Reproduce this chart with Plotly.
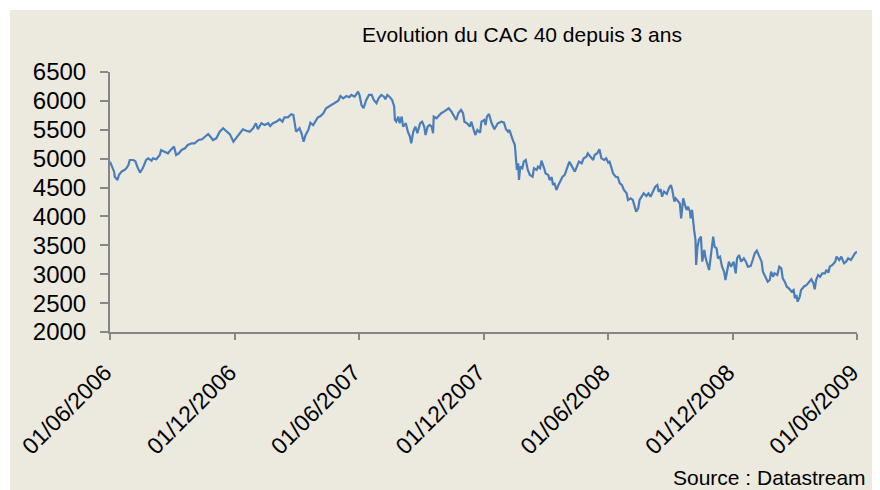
import plotly.graph_objects as go

dates = [
    "2006-06-01", "2006-06-04", "2006-06-07", "2006-06-08", "2006-06-12", "2006-06-14", "2006-06-18",
    "2006-06-22", "2006-06-25", "2006-06-28", "2006-06-30", "2006-07-05", "2006-07-08", "2006-07-11",
    "2006-07-15", "2006-07-19", "2006-07-24", "2006-07-27", "2006-08-01", "2006-08-03", "2006-08-08",
    "2006-08-13", "2006-08-15", "2006-08-20", "2006-08-25", "2006-08-29", "2006-09-03", "2006-09-06",
    "2006-09-10", "2006-09-14", "2006-09-19", "2006-09-23", "2006-09-29", "2006-10-03", "2006-10-09",
    "2006-10-14", "2006-10-18", "2006-10-23", "2006-10-27", "2006-10-30", "2006-11-04", "2006-11-09",
    "2006-11-14", "2006-11-19", "2006-11-24", "2006-11-29", "2006-12-03", "2006-12-08", "2006-12-13",
    "2006-12-18", "2006-12-23", "2006-12-28", "2007-01-01", "2007-01-04", "2007-01-09", "2007-01-14",
    "2007-01-19", "2007-01-22", "2007-01-26", "2007-01-31", "2007-02-05", "2007-02-09", "2007-02-12",
    "2007-02-17", "2007-02-22", "2007-02-25", "2007-02-27", "2007-03-01", "2007-03-06", "2007-03-09",
    "2007-03-12", "2007-03-15", "2007-03-19", "2007-03-22", "2007-03-26", "2007-03-30", "2007-04-02",
    "2007-04-06", "2007-04-10", "2007-04-14", "2007-04-18", "2007-04-22", "2007-04-27", "2007-05-02",
    "2007-05-05", "2007-05-09", "2007-05-14", "2007-05-18", "2007-05-21", "2007-05-26", "2007-05-31",
    "2007-06-02", "2007-06-05", "2007-06-08", "2007-06-12", "2007-06-16", "2007-06-20", "2007-06-23",
    "2007-06-27", "2007-06-30", "2007-07-04", "2007-07-08", "2007-07-10", "2007-07-13", "2007-07-16",
    "2007-07-20", "2007-07-23", "2007-07-24", "2007-07-26", "2007-07-29", "2007-07-31", "2007-08-03",
    "2007-08-05", "2007-08-09", "2007-08-12", "2007-08-15", "2007-08-17", "2007-08-20", "2007-08-23",
    "2007-08-26", "2007-08-30", "2007-09-02", "2007-09-05", "2007-09-07", "2007-09-10", "2007-09-13",
    "2007-09-16", "2007-09-18", "2007-09-19", "2007-09-23", "2007-09-26", "2007-09-30", "2007-10-04",
    "2007-10-08", "2007-10-11", "2007-10-15", "2007-10-19", "2007-10-22", "2007-10-25", "2007-10-29",
    "2007-11-01", "2007-11-03", "2007-11-07", "2007-11-11", "2007-11-13", "2007-11-16", "2007-11-19",
    "2007-11-22", "2007-11-26", "2007-11-28", "2007-12-02", "2007-12-04", "2007-12-06", "2007-12-09",
    "2007-12-13", "2007-12-17", "2007-12-22", "2007-12-27", "2007-12-31", "2008-01-03", "2008-01-06",
    "2008-01-08", "2008-01-11", "2008-01-13", "2008-01-16", "2008-01-17", "2008-01-19", "2008-01-21",
    "2008-01-22", "2008-01-24", "2008-01-27", "2008-01-29", "2008-02-01", "2008-02-04", "2008-02-07",
    "2008-02-11", "2008-02-13", "2008-02-17", "2008-02-19", "2008-02-22", "2008-02-24", "2008-02-28",
    "2008-03-01", "2008-03-05", "2008-03-07", "2008-03-10", "2008-03-12", "2008-03-14", "2008-03-17",
    "2008-03-20", "2008-03-23", "2008-03-26", "2008-03-29", "2008-04-01", "2008-04-05", "2008-04-09",
    "2008-04-13", "2008-04-16", "2008-04-19", "2008-04-23", "2008-04-26", "2008-04-30", "2008-05-02",
    "2008-05-06", "2008-05-10", "2008-05-12", "2008-05-16", "2008-05-19", "2008-05-22", "2008-05-26",
    "2008-05-29", "2008-06-01", "2008-06-03", "2008-06-06", "2008-06-08", "2008-06-12", "2008-06-15",
    "2008-06-18", "2008-06-21", "2008-06-24", "2008-06-28", "2008-06-30", "2008-07-04", "2008-07-07",
    "2008-07-10", "2008-07-12", "2008-07-15", "2008-07-17", "2008-07-20", "2008-07-23", "2008-07-27",
    "2008-07-30", "2008-08-02", "2008-08-06", "2008-08-09", "2008-08-12", "2008-08-14", "2008-08-17",
    "2008-08-19", "2008-08-22", "2008-08-26", "2008-08-29", "2008-09-01", "2008-09-03", "2008-09-06",
    "2008-09-08", "2008-09-10", "2008-09-14", "2008-09-16", "2008-09-19", "2008-09-21", "2008-09-24",
    "2008-09-26", "2008-09-29", "2008-09-30", "2008-10-02", "2008-10-05", "2008-10-07", "2008-10-08",
    "2008-10-10", "2008-10-12", "2008-10-15", "2008-10-17", "2008-10-20", "2008-10-22", "2008-10-25",
    "2008-10-27", "2008-10-30", "2008-10-31", "2008-11-02", "2008-11-04", "2008-11-07", "2008-11-09",
    "2008-11-12", "2008-11-15", "2008-11-18", "2008-11-20", "2008-11-23", "2008-11-25", "2008-11-28",
    "2008-12-01", "2008-12-02", "2008-12-05", "2008-12-07", "2008-12-10", "2008-12-13", "2008-12-17",
    "2008-12-20", "2008-12-23", "2008-12-27", "2008-12-30", "2009-01-02", "2009-01-05", "2009-01-08",
    "2009-01-12", "2009-01-14", "2009-01-18", "2009-01-21", "2009-01-24", "2009-01-26", "2009-01-29",
    "2009-01-31", "2009-02-04", "2009-02-07", "2009-02-10", "2009-02-12", "2009-02-15", "2009-02-18",
    "2009-02-21", "2009-02-25", "2009-02-28", "2009-03-02", "2009-03-04", "2009-03-06", "2009-03-09",
    "2009-03-11", "2009-03-15", "2009-03-19", "2009-03-23", "2009-03-26", "2009-03-29", "2009-03-31",
    "2009-04-02", "2009-04-05", "2009-04-08", "2009-04-11", "2009-04-15", "2009-04-17", "2009-04-20",
    "2009-04-22", "2009-04-26", "2009-04-30", "2009-05-02", "2009-05-06", "2009-05-09", "2009-05-13",
    "2009-05-16", "2009-05-19", "2009-05-23", "2009-05-26", "2009-05-29", "2009-06-01",
]

cac40 = [
    4948, 4862, 4775, 4688, 4631, 4717, 4775,
    4804, 4833, 4890, 4977, 4977, 4960, 4862,
    4758, 4833, 4977, 5006, 4965, 5006, 4989,
    5064, 5150, 5121, 5093, 5150, 5208, 5064,
    5093, 5150, 5179, 5237, 5266, 5266, 5323,
    5335, 5381, 5427, 5370, 5323, 5352, 5467,
    5526, 5467, 5420, 5294, 5352, 5439, 5509,
    5484, 5467, 5526, 5613, 5509, 5613, 5583,
    5613, 5566, 5613, 5640, 5682, 5640, 5716,
    5716, 5768, 5756, 5613, 5467, 5526, 5439,
    5294, 5410, 5497, 5623, 5583, 5670, 5716,
    5739, 5786, 5872, 5900, 5929, 5959, 6004,
    6085, 6045, 6085, 6063, 6103, 6073, 6160,
    6103, 5929, 5872, 6016, 6103, 6103, 6016,
    5959, 6045, 6103, 6073, 6027, 6103, 6073,
    6016, 5900, 5670, 5640, 5727, 5613, 5727,
    5554, 5613, 5467, 5381, 5266, 5467, 5554,
    5439, 5613, 5640, 5554, 5410, 5554, 5583,
    5554, 5439, 5727, 5699, 5739, 5786, 5814,
    5855, 5872, 5814, 5727, 5670, 5786, 5843,
    5786, 5640, 5613, 5554, 5640, 5526, 5410,
    5497, 5450, 5640, 5670, 5583, 5727, 5774,
    5613, 5509, 5613, 5640, 5623, 5509, 5467,
    5497, 5381, 5323, 5237, 5034, 4804, 4920,
    4631, 4862, 4833, 4948, 4977, 4804, 4717,
    4688, 4833, 4804, 4862, 4833, 4965, 4833,
    4746, 4717, 4631, 4678, 4545, 4584, 4458,
    4545, 4631, 4688, 4717, 4833, 4948, 4862,
    4775, 4862, 4948, 4920, 5006, 5034, 5093,
    5034, 4977, 5064, 5093, 5162, 5006, 4977,
    5006, 4931, 4948, 4833, 4746, 4688, 4678,
    4574, 4545, 4458, 4400, 4285, 4314, 4285,
    4169, 4083, 4141, 4285, 4342, 4400, 4354,
    4400, 4342, 4458, 4515, 4545, 4429, 4470,
    4342, 4429, 4389, 4487, 4545, 4458, 4256,
    4314, 4285, 4227, 3968, 4314, 4227, 4112,
    4169, 4083, 3968, 4112, 3766, 3593, 3160,
    3477, 3593, 3650, 3217, 3419, 3275, 3160,
    3073, 3362, 3477, 3650, 3477, 3448, 3275,
    3304, 3131, 3044, 2900, 3131, 3217, 3131,
    3189, 3217, 3016, 3275, 3333, 3217, 3275,
    3217, 3131, 3142, 3246, 3362, 3407, 3316,
    3217, 3044, 2957, 2871, 2900, 3044, 2957,
    3016, 2987, 3131, 3102, 2930, 2871, 2784,
    2756, 2698, 2727, 2583, 2640, 2525, 2611,
    2727, 2784, 2814, 2871, 2912, 2843, 2739,
    2900, 2987, 2957, 3016, 3016, 3073, 3027,
    3131, 3160, 3217, 3304, 3246, 3304, 3189,
    3217, 3275, 3246, 3304, 3362, 3391,
]

tick_dates = ["2006-06-01", "2006-12-01", "2007-06-01", "2007-12-01",
              "2008-06-01", "2008-12-01", "2009-06-01"]
tick_labels = ["01/06/2006", "01/12/2006", "01/06/2007", "01/12/2007",
               "01/06/2008", "01/12/2008", "01/06/2009"]
y_ticks = [2000, 2500, 3000, 3500, 4000, 4500, 5000, 5500, 6000, 6500]

title_text = "Evolution du CAC 40 depuis 3 ans"
source_text = "Source : Datastream"

BEIGE = "#ECE9DF"
AXIS = "#868686"
FONT = "Liberation Sans, Arial, sans-serif"

# the page shows the figure with an 8px body offset
OFF = 8
W, H = 880 - OFF, 490 - OFF
L, R, T, B = 110 - OFF, 880 - 857, 72 - OFF, 490 - 332
pw, ph = W - L - R, H - T - B


def px_to_paper_x(px):
    return (px - OFF - L) / pw


def px_to_paper_y(py):
    return (H - B - (py - OFF)) / ph


fig = go.Figure()
fig.add_trace(go.Scatter(
    x=dates, y=cac40, mode="lines",
    line=dict(color="#4A7EBB", width=2.2),
    showlegend=False, hoverinfo="x+y",
))

fig.add_shape(
    type="rect", xref="paper", yref="paper", layer="below",
    x0=px_to_paper_x(10), x1=px_to_paper_x(890),
    y0=px_to_paper_y(500), y1=px_to_paper_y(10),
    fillcolor=BEIGE, line=dict(width=0),
)

fig.update_layout(
    width=W, height=H,
    margin=dict(l=L, r=R, t=T, b=B, autoexpand=False),
    paper_bgcolor="white",
    plot_bgcolor="white",
    font=dict(family=FONT, color="#000000"),
    title=dict(text=title_text, xref="container", yref="container",
               x=(522 - OFF) / W, y=1 - (35 - OFF) / H,
               xanchor="center", yanchor="middle",
               font=dict(size=21, family=FONT, color="#000000")),
    xaxis=dict(
        type="date", automargin=False,
        range=[tick_dates[0], tick_dates[-1]],
        tickmode="array", tickvals=tick_dates, ticktext=tick_labels,
        tickangle=-45,
        tickfont=dict(size=23, family=FONT, color="#000000"),
        ticklabelstandoff=10, ticklabelshift=-5,
        showline=True, linecolor=AXIS, linewidth=2,
        ticks="outside", ticklen=6, tickcolor=AXIS, tickwidth=2,
        showgrid=False, zeroline=False,
    ),
    yaxis=dict(
        automargin=False,
        range=[2000, 6500],
        tickmode="array", tickvals=y_ticks,
        tickfont=dict(size=24, family=FONT, color="#000000"),
        ticklabelstandoff=9,
        showline=True, linecolor=AXIS, linewidth=2,
        ticks="outside", ticklen=8, tickcolor=AXIS, tickwidth=2,
        showgrid=False, zeroline=False,
    ),
    annotations=[dict(
        text=source_text, xref="paper", yref="paper",
        x=px_to_paper_x(868), y=px_to_paper_y(491),
        xanchor="right", yanchor="bottom", showarrow=False,
        font=dict(size=21, family=FONT, color="#000000"),
    )],
)

fig.write_html("out.html")
